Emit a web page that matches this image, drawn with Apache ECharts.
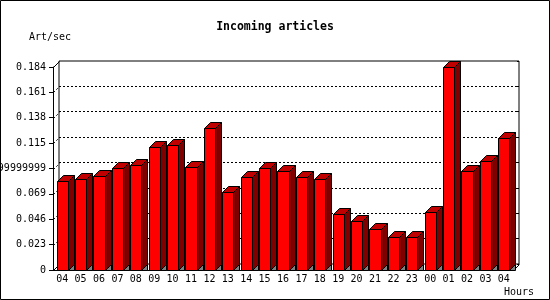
<!DOCTYPE html>
<html>
<head>
<meta charset="utf-8">
<script src="https://cdn.jsdelivr.net/npm/echarts@6/dist/echarts.min.js"></script>
<style>
  html, body { margin: 0; padding: 0; background: #fff; }
  #chart { width: 550px; height: 300px; }
</style>
</head>
<body>
<div id="chart"></div>
<script>
// hour of day (last 24h, oldest first)
const hours = ['04', '05', '06', '07', '08', '09', '10', '11', '12', '13', '14', '15', '16',
  '17', '18', '19', '20', '21', '22', '23', '00', '01', '02', '03', '04']
// incoming articles per second
const artPerSec = [0.0804, 0.0822, 0.0849, 0.0921, 0.0951, 0.1111, 0.1130, 0.0930, 0.1284,
  0.0704, 0.0840, 0.0921, 0.0894, 0.0840, 0.0822, 0.0505, 0.0444, 0.0369, 0.0296, 0.0296,
  0.0526, 0.1840, 0.0894, 0.0985, 0.1193]
// y tick labels as printed (one of them with the float noise)
const yTicks = ['0', '0.023', '0.046', '0.069', '0.09199999999', '0.115', '0.138', '0.161', '0.184']
const yStep = 0.023
const yMax = 0.184

const FONT = '"DejaVu Sans Mono", "Liberation Mono", monospace'
const FRONT = { left: 53, top: 67, width: 460, height: 203 }
const DEPTH = 6
const BACK = { left: FRONT.left + DEPTH, top: FRONT.top - DEPTH, width: FRONT.width, height: FRONT.height }

// pseudo 3d bar: floor shadow, side, top, front
function renderBar(params, api) {
  const top = api.coord([api.value(0), api.value(1)])
  const base = api.coord([api.value(0), 0])
  const half = api.size([1, 0])[0] * 0.3
  const x0 = Math.round(top[0] - half) + 0.5
  const x1 = Math.round(top[0] + half) + 0.5
  const ty = Math.round(top[1]) + 0.5
  const by = Math.round(base[1]) + 0.5
  const d = DEPTH
  return {
    type: 'group',
    children: [
      { type: 'polygon', shape: { points: [[x1, by], [x1 + d, by - d], [x1 + d, by]] },
        style: { fill: '#808080', stroke: '#000', lineWidth: 1 } },
      { type: 'polygon', shape: { points: [[x1, ty], [x1 + d, ty - d], [x1 + d, by - d], [x1, by]] },
        style: { fill: '#800000', stroke: '#000', lineWidth: 1 } },
      { type: 'polygon', shape: { points: [[x0, ty], [x0 + d, ty - d], [x1 + d, ty - d], [x1, ty]] },
        style: { fill: '#c00000', stroke: '#000', lineWidth: 1 } },
      { type: 'rect', shape: { x: x0, y: ty, width: x1 - x0, height: by - ty },
        style: { fill: '#ff0000', stroke: '#000', lineWidth: 1 } }
    ]
  }
}

// little diagonals joining the front axis to the back wall
const joins = []
yTicks.forEach((t, k) => {
  const y = Math.round(FRONT.top + FRONT.height * (1 - k / (yTicks.length - 1))) + 0.5
  const x = FRONT.left + 0.5
  const solid = k === 0 || k === yTicks.length - 1
  joins.push({
    type: 'line',
    shape: { x1: x, y1: y, x2: x + DEPTH, y2: y - DEPTH },
    style: { stroke: '#000', lineWidth: 1, lineDash: solid ? null : [2, 2] }
  })
})
const rx = FRONT.left + FRONT.width + 0.5
const ry = FRONT.top + FRONT.height + 0.5
joins.push({ type: 'line', shape: { x1: rx, y1: ry, x2: rx + DEPTH, y2: ry - DEPTH }, style: { stroke: '#000', lineWidth: 1 } })

const chart = echarts.init(document.getElementById('chart'))

const option = {
  animation: false,
  backgroundColor: '#fff',
  title: {
    text: 'Incoming articles',
    left: 'center',
    top: 21,
    padding: 0,
    textStyle: { fontFamily: FONT, fontSize: 11.5, fontWeight: 'bold', color: '#000' }
  },
  grid: [
    { ...FRONT, outerBoundsMode: 'none', containLabel: false },
    { ...BACK, outerBoundsMode: 'none', containLabel: false, show: true, borderColor: '#000', borderWidth: 1, backgroundColor: 'transparent' }
  ],
  xAxis: [
    {
      gridIndex: 0,
      type: 'category',
      data: hours,
      axisLine: { lineStyle: { color: '#000', width: 1 } },
      axisTick: { length: 4, interval: 0, lineStyle: { color: '#000' } },
      axisLabel: { interval: 0, color: '#000', fontFamily: FONT, fontSize: 10, margin: 4 },
      splitLine: { show: false }
    },
    { gridIndex: 1, type: 'category', data: hours, show: false }
  ],
  yAxis: [
    {
      gridIndex: 0,
      type: 'value',
      min: 0,
      max: yMax,
      interval: yStep,
      axisLine: { show: true, lineStyle: { color: '#000', width: 1 } },
      axisTick: { show: true, length: 4, lineStyle: { color: '#000' } },
      axisLabel: {
        color: '#000', fontFamily: FONT, fontSize: 10, margin: 7,
        formatter: v => yTicks[Math.round(v / yStep)]
      },
      splitLine: { show: false }
    },
    {
      gridIndex: 1,
      type: 'value',
      min: 0,
      max: yMax,
      interval: yStep,
      axisLine: { show: false },
      axisTick: { show: false },
      axisLabel: { show: false },
      splitLine: { show: true, showMinLine: false, showMaxLine: false, lineStyle: { color: '#000', width: 1, type: [2, 2] } }
    },
    {
      gridIndex: 1,
      type: 'value',
      position: 'right',
      min: 0,
      max: yMax,
      interval: yStep,
      axisLine: { show: false },
      axisTick: { show: true, inside: true, length: 2, lineStyle: { color: '#000' } },
      axisLabel: { show: false },
      splitLine: { show: false }
    }
  ],
  series: [
    {
      name: 'Incoming articles',
      type: 'custom',
      xAxisIndex: 0,
      yAxisIndex: 0,
      clip: false,
      renderItem: renderBar,
      encode: { x: 0, y: 1 },
      data: hours.map((h, i) => [i, artPerSec[i]]),
      z: 3
    }
  ],
  graphic: [
    { type: 'rect', shape: { x: 0.5, y: 0.5, width: 549, height: 299 }, style: { fill: null, stroke: '#000', lineWidth: 1 }, z: 10, silent: true },
    { type: 'text', x: 50, y: 37, style: { text: 'Art/sec', font: '10px ' + FONT, fill: '#000', textAlign: 'center', textVerticalAlign: 'middle' } },
    { type: 'text', x: 519, y: 292, style: { text: 'Hours', font: '10px ' + FONT, fill: '#000', textAlign: 'center', textVerticalAlign: 'middle' } },
    ...joins
  ]
}

chart.setOption(option)
</script>
</body>
</html>
